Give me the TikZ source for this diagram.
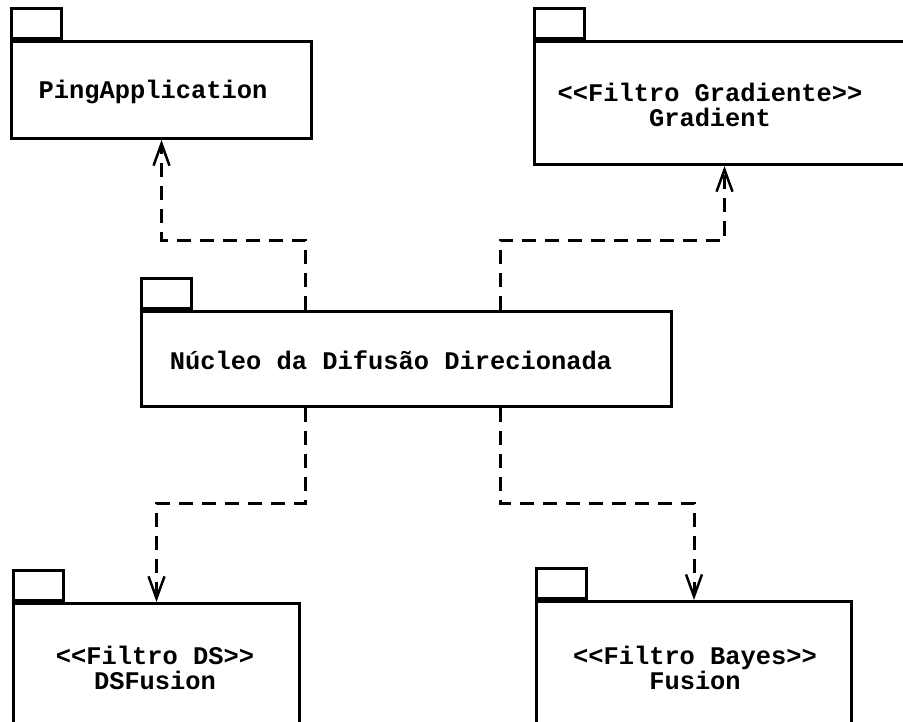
\documentclass[tikz,border=0pt]{standalone}
\usepackage{fontspec}
\setmonofont{Liberation Mono}
\usetikzlibrary{arrows.meta,calc}
\tikzset{
  pkg/.style={
    rectangle,
    draw=black,
    line width=3bp,
    inner sep=0pt,
    anchor=north west
    },
  tab/.style={
    rectangle,
    draw=black,
    line width=3bp,
    minimum width=50bp,
    minimum height=30bp,
    inner sep=0pt,
    anchor=south west
    },
  title/.style={
    font=\ttfamily\bfseries\fontsize{25.5}{25}\selectfont,
    align=center,
    inner sep=0pt
    },
  dep/.style={line width=3bp, dash pattern=on 14bp off 9bp,
    -{Straight Barb[length=22bp,width=16bp,line width=2.5bp]}},
}

\begin{document}
\begin{tikzpicture}[x=1bp,y=-1bp]
    \clip (0,0) rectangle (903,722);

    % Draw the package bodies
    \foreach \name / \x / \y / \w / \h in {ping/10/40/300/97, grad/533/40/380/123, core/140/310/530/95, ds/12/602/286/140, fus/535/600/315/140}
        \node[pkg, minimum width=\w bp, minimum height=\h bp] (\name) at (\x,\y) {};

    % Draw the tabs on top of each body
    \foreach \name in {ping,grad,core,ds,fus}
        \node[tab] (\name-tab) at (\name.north west) {};

    % Package names
    \node[title] (ping-t) at (153,92) {PingApplication};
    \node[title] (grad-t) at (710,105) {<<Filtro Gradiente>>\\Gradient};
    \node[title] (core-t) at (391,360) {Núcleo da Difusão Direcionada};
    \node[title] (ds-t) at (155,668) {<<Filtro DS>>\\DSFusion};
    \node[title] (fus-t) at (695,668) {<<Filtro Bayes>>\\Fusion};

    % Connect the core with the other packages
    \draw[dep] ($(core.north west)+(165,0)$) -- ++(0,-70) -| (ping.south);
    \draw[dep] ($(core.north west)+(360,0)$) -- ++(0,-70) -| (grad.south);
    \draw[dep] ($(core.south west)+(165,0)$) -- ++(0,95) -| (ds.north);
    \draw[dep] ($(core.south west)+(360,0)$) -- ++(0,95) -| (fus.north);
\end{tikzpicture}
\end{document}
